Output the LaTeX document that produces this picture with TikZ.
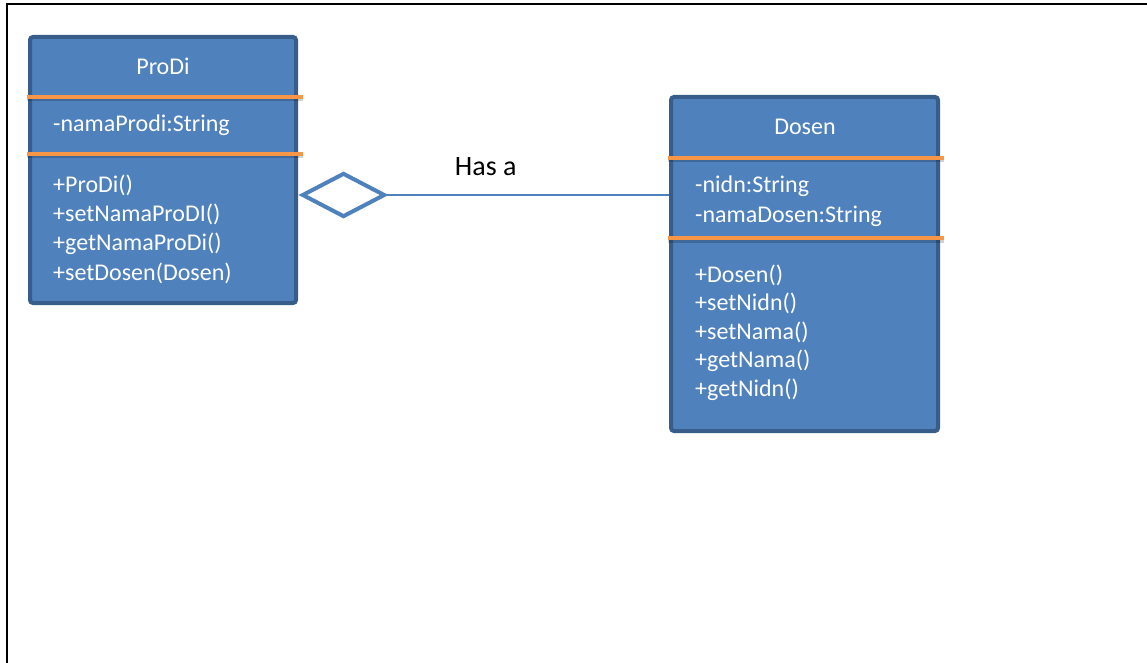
\documentclass[tikz,border=0pt]{standalone}
\usepackage{fontspec}
\setmainfont{Carlito}
\usetikzlibrary{shapes.geometric}
\definecolor{umlBlue}{HTML}{4F81BD}
\definecolor{umlEdge}{HTML}{385D8A}
\definecolor{umlOrange}{HTML}{F79646}

\begin{document}
\begin{tikzpicture}[x=1pt, y=-1pt, font=\fontsize{24}{29}\selectfont,
      cls/.style={draw=umlEdge, fill=umlBlue, line width=4pt, rounded corners=3pt,
                  minimum width=266pt, inner sep=0pt},
      txt/.style={text=white, inner sep=0pt, align=left},
      bar/.style={umlOrange, line width=4.5pt,
                  preaction={draw=black, opacity=.18, line width=3pt, transform canvas={yshift=-3pt}}},
      agg/.style={umlBlue, line width=1.5pt}]
    \useasboundingbox (0,0) rectangle (1147,663);
    \draw[line width=2.5pt] (1147,4) -- (7,4) -- (7,663);

    % class ProDi (multi-line nodes sit on their last baseline)
    \node[cls, minimum height=266pt] (prodi) at (163,170) {};
    \node[txt, anchor=base] (prodiName) at (163,75) {ProDi};
    \node[txt, anchor=base west] (prodiAttr) at (53,132) {-namaProdi:String};
    \node[txt, anchor=base west, font=\fontsize{24}{29.3}\selectfont] (prodiOps) at (53,280)
      {+ProDi()\\+setNamaProDI()\\+getNamaProDi()\\+setDosen(Dosen)};
    \draw[bar] (27,97) -- (303,97);
    \draw[bar] (27,154) -- (303,154);

    % class Dosen
    \node[cls, minimum height=334pt, minimum width=267pt] (dosen) at (804.5,264) {};
    \node[txt, anchor=base] (dosenName) at (805,135) {Dosen};
    \node[txt, anchor=base west, font=\fontsize{24}{30}\selectfont] (dosenAttr) at (695,222)
      {-nidn:String\\-namaDosen:String};
    \node[txt, anchor=base west, font=\fontsize{24}{28.5}\selectfont] (dosenOps) at (695,396)
      {+Dosen()\\+setNidn()\\+setNama()\\+getNama()\\+getNidn()};
    \draw[bar] (668,158) -- (944,158);
    \draw[bar] (668,238) -- (944,238);

    % aggregation
    \node[diamond, draw=umlBlue, fill=white, line width=4pt, inner sep=0pt,
          minimum width=83pt, minimum height=44pt] (dia) at (343.5,195) {};
    \draw[agg] (dia.east) -- node[pos=0.35, above=19pt, inner sep=0pt, text=black,
          font=\fontsize{28}{34}\selectfont] (hasa) {Has a} (dia.east -| dosen.west);
  \end{tikzpicture}
\end{document}
